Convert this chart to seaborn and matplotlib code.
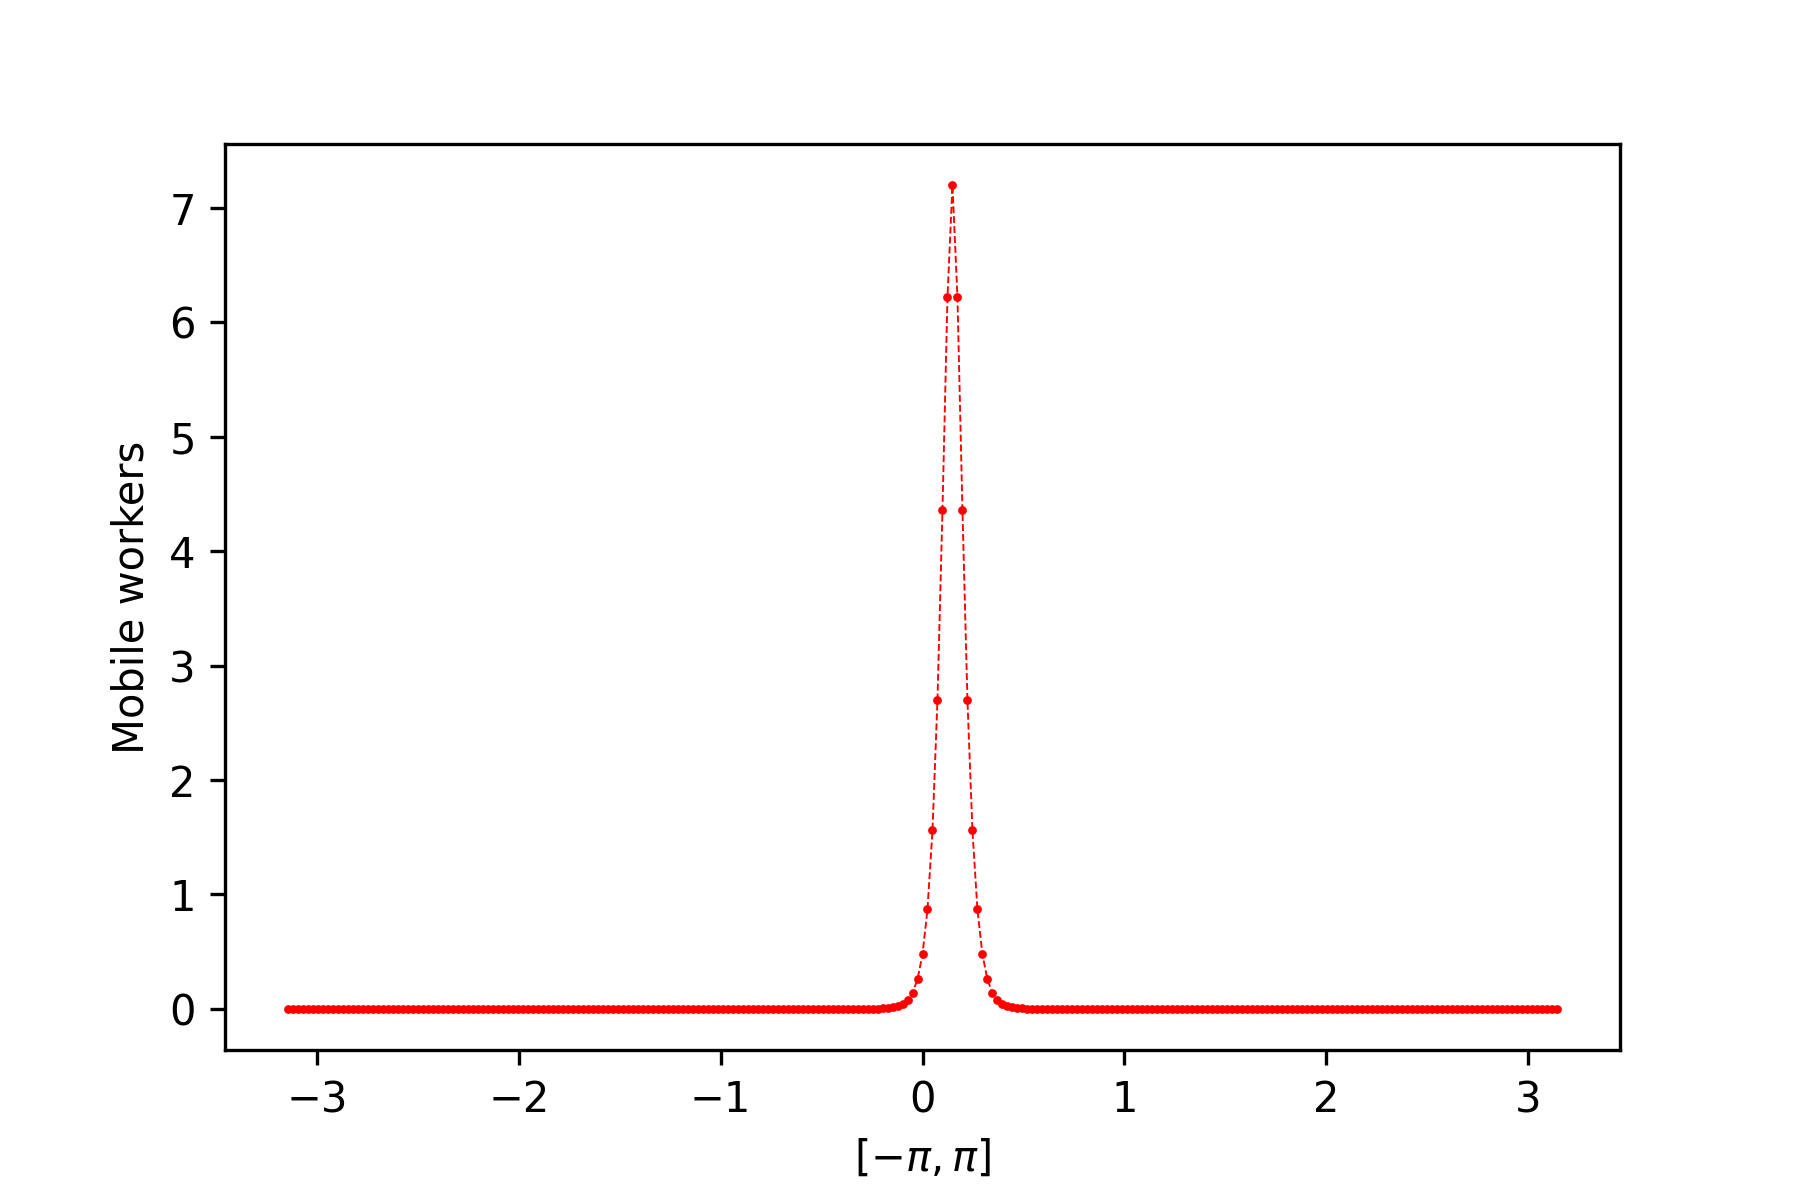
import numpy as np
import matplotlib
matplotlib.use("Agg")
import matplotlib.pyplot as plt
import seaborn as sns

# grid on [-pi, pi], 255 points
n_points = 255
x = np.linspace(-np.pi, np.pi, n_points)

# mobile workers (peak at index 133)
left_zeros = [
    0, 0, 0, 0, 0, 0, 0, 0, 0, 0, 0, 0, 0, 0, 0, 0, 0, 0, 0, 0,
    0, 0, 0, 0, 0, 0, 0, 0, 0, 0, 0, 0, 0, 0, 0, 0, 0, 0, 0, 0,
    0, 0, 0, 0, 0, 0, 0, 0, 0, 0, 0, 0, 0, 0, 0, 0, 0, 0, 0, 0,
    0, 0, 0, 0, 0, 0, 0, 0, 0, 0, 0, 0, 0, 0, 0, 0, 0, 0, 0, 0,
    0, 0, 0, 0, 0, 0, 0, 0, 0, 0, 0, 0, 0, 0, 0, 0, 0, 0, 0, 0,
    0, 0, 0, 0, 0, 0, 0, 0, 0, 0, 0, 0, 0,
]
left_tail = [
    0.0001, 0.0002, 0.0003, 0.0006, 0.0011, 0.0021, 0.0038, 0.0069,
    0.0126, 0.023, 0.042, 0.076, 0.138, 0.258, 0.476, 0.87, 1.56,
    2.70, 4.36, 6.22,
]
peak = [7.20]
right_tail = [
    6.22, 4.36, 2.70, 1.56, 0.87, 0.476, 0.258, 0.138, 0.076, 0.042,
    0.023, 0.0126, 0.0069, 0.0038, 0.0021, 0.0011, 0.0006, 0.0003,
    0.0002, 0.0001,
]
right_zeros = [
    0, 0, 0, 0, 0, 0, 0, 0, 0, 0, 0, 0, 0, 0, 0, 0, 0, 0, 0, 0,
    0, 0, 0, 0, 0, 0, 0, 0, 0, 0, 0, 0, 0, 0, 0, 0, 0, 0, 0, 0,
    0, 0, 0, 0, 0, 0, 0, 0, 0, 0, 0, 0, 0, 0, 0, 0, 0, 0, 0, 0,
    0, 0, 0, 0, 0, 0, 0, 0, 0, 0, 0, 0, 0, 0, 0, 0, 0, 0, 0, 0,
    0, 0, 0, 0, 0, 0, 0, 0, 0, 0, 0, 0, 0, 0, 0, 0, 0, 0, 0, 0,
    0,
]
workers = np.array(left_zeros + left_tail + peak + right_tail + right_zeros, dtype=float)

fig, ax = plt.subplots(figsize=(6, 4), dpi=300)
fig.subplots_adjust(left=0.125, right=0.9, top=0.88, bottom=0.125)

sns.lineplot(x=x, y=workers, ax=ax, color="red", linestyle="--", linewidth=0.45,
             marker="o", markersize=2.1, markeredgewidth=0, markeredgecolor="red",
             sort=False, estimator=None)

ax.set_xlabel(r"$[-\pi, \pi]$")
ax.set_ylabel("Mobile workers")

fig.savefig("out.png", dpi=300)
